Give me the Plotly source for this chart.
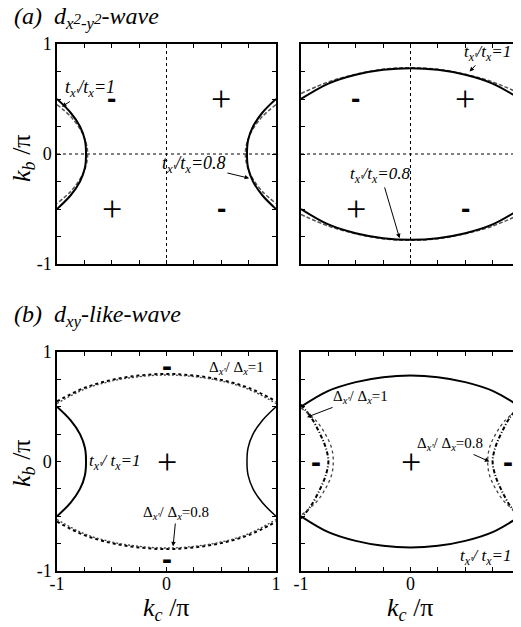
import plotly.graph_objects as go

W, H = 521, 627
OFF = 8  # page body margin of the default html wrapper
FW, FH = W - OFF, H - OFF
SERIF = "Liberation Serif, Times New Roman, serif"
SANS = "Liberation Sans, Arial, sans-serif"

# ---------------- data ----------------
ticks = [-1.0, -0.75, -0.5, -0.25, 0.0, 0.25, 0.5, 0.75, 1.0]
tick_text = ["-1", "", "", "", "0", "", "", "", "1"]

# (a) left panel: arcs near kc = -pi (right arcs are mirror images)
a1_solid_y = [0.5, 0.375, 0.25, 0.125, 0.0, -0.125, -0.25, -0.375, -0.5]
a1_solid_x = [-1.0, -0.875, -0.79, -0.745, -0.735, -0.745, -0.79, -0.875, -1.0]
a1_dash_y = [0.45, 0.34, 0.22, 0.11, 0.0, -0.11, -0.22, -0.34, -0.45]
a1_dash_x = [-1.0, -0.875, -0.785, -0.737, -0.72, -0.737, -0.785, -0.875, -1.0]

# (a) right panel: upper branches (lower are mirror images)
kx = [-1.0, -0.75, -0.5, -0.25, 0.0, 0.25, 0.5, 0.75, 1.0]
a2_solid_y = [0.5, 0.64, 0.72, 0.765, 0.78, 0.765, 0.72, 0.64, 0.5]
a2_dash_y = [0.55, 0.655, 0.725, 0.77, 0.785, 0.77, 0.725, 0.655, 0.55]

# (b) left panel
b1_solid_y = [0.5, 0.375, 0.25, 0.125, 0.0, -0.125, -0.25, -0.375, -0.5]
b1_solid_x = [-1.0, -0.875, -0.79, -0.745, -0.735, -0.745, -0.79, -0.875, -1.0]
b1_dot1_y = [0.55, 0.672, 0.745, 0.785, 0.80, 0.785, 0.745, 0.672, 0.55]
b1_dot2_y = [0.53, 0.66, 0.735, 0.775, 0.79, 0.775, 0.735, 0.66, 0.53]

# (b) right panel
b2_solid_y = [0.5, 0.645, 0.725, 0.77, 0.785, 0.77, 0.725, 0.645, 0.5]
b2_dot1_y = [0.52, 0.39, 0.26, 0.13, 0.0, -0.13, -0.26, -0.39, -0.52]
b2_dot1_x = [-1.0, -0.9, -0.83, -0.775, -0.75, -0.775, -0.83, -0.9, -1.0]
b2_dot2_y = [0.49, 0.37, 0.245, 0.12, 0.0, -0.12, -0.245, -0.37, -0.49]
b2_dot2_x = [-1.0, -0.86, -0.775, -0.72, -0.705, -0.72, -0.775, -0.86, -1.0]

fig = go.Figure()


def neg(v):
    return [-t for t in v]


def line(x, y, ax, color="black", width=2, dash="solid"):
    fig.add_trace(go.Scatter(
        x=x, y=y, mode="lines", xaxis="x" + ax, yaxis="y" + ax,
        line=dict(color=color, width=width, dash=dash, shape="spline"),
        showlegend=False, hoverinfo="skip"))


# panel a-left
for sx in (1, -1):
    xs = a1_dash_x if sx == 1 else neg(a1_dash_x)
    line(xs, a1_dash_y, "", color="#555", width=1.5, dash="4px,2px")
    xs = a1_solid_x if sx == 1 else neg(a1_solid_x)
    line(xs, a1_solid_y, "", width=2)

# panel a-right
for sy in (1, -1):
    yd = a2_dash_y if sy == 1 else neg(a2_dash_y)
    ys = a2_solid_y if sy == 1 else neg(a2_solid_y)
    line(kx, yd, "2", color="#555", width=1.5, dash="4px,2px")
    line(kx, ys, "2", width=2)

# panel b-left
line(b1_solid_x, b1_solid_y, "3", width=2)
line(neg(b1_solid_x), b1_solid_y, "3", width=1.5)
for sy in (1, -1):
    y1 = b1_dot1_y if sy == 1 else neg(b1_dot1_y)
    y2 = b1_dot2_y if sy == 1 else neg(b1_dot2_y)
    line(kx, y1, "3", width=2, dash="dot")
    line(kx, y2, "3", color="#444", width=1.3, dash="2px,2px")

# panel b-right
for sy in (1, -1):
    ys = b2_solid_y if sy == 1 else neg(b2_solid_y)
    line(kx, ys, "4", width=2)
for sx in (1, -1):
    x1 = b2_dot1_x if sx == 1 else neg(b2_dot1_x)
    x2 = b2_dot2_x if sx == 1 else neg(b2_dot2_x)
    line(x1, b2_dot1_y, "4", width=2, dash="4px,2px,1px,2px")
    line(x2, b2_dot2_y, "4", color="#444", width=1.3, dash="dot")

# ---------------- axes ----------------
def px_x(p):
    return (p - OFF) / FW


def px_y(p):
    return 1 - (p - OFF) / FH


dom_x = {"L": [px_x(57), px_x(276)], "R": [px_x(301), px_x(520)]}
dom_y = {"A": [px_y(264), px_y(44)], "B": [px_y(571), px_y(352)]}


def axis(domain, anchor, labels, is_x):
    d = dict(domain=domain, anchor=anchor, range=[-1, 1],
             showline=True, linecolor="black", linewidth=1.5, mirror="ticks",
             ticks="inside", ticklen=4, tickwidth=1, tickcolor="black",
             tickvals=ticks, ticktext=tick_text if labels else [""] * 9,
             showgrid=False, zeroline=False,
             tickfont=dict(family=SERIF, size=18, color="black"),
             fixedrange=True)
    if is_x:
        d["ticklabelstandoff"] = -4
    return d


layout_axes = dict(
    xaxis=axis(dom_x["L"], "y", False, True), yaxis=axis(dom_y["A"], "x", True, False),
    xaxis2=axis(dom_x["R"], "y2", False, True), yaxis2=axis(dom_y["A"], "x2", False, False),
    xaxis3=axis(dom_x["L"], "y3", True, True), yaxis3=axis(dom_y["B"], "x3", True, False),
    xaxis4=axis(dom_x["R"], "y4", True, True), yaxis4=axis(dom_y["B"], "x4", False, False),
)

shapes = []
for ax in ("", "2"):
    shapes.append(dict(type="line", xref="x" + ax, yref="y" + ax, x0=0, x1=0, y0=-1, y1=1,
                       line=dict(color="black", width=1, dash="dot"), layer="below"))
    shapes.append(dict(type="line", xref="x" + ax, yref="y" + ax, x0=-1, x1=1, y0=0, y1=0,
                       line=dict(color="black", width=1, dash="dot"), layer="below"))

# ---------------- text ----------------
anns = []
TX1 = "<i>t<sub>x'</sub>/t<sub>x</sub>=1</i>"
TX08 = "<i>t<sub>x'</sub>/t<sub>x</sub>=0.8</i>"
TX1s = "<i>t<sub>x'</sub>/ t<sub>x</sub>=1</i>"
DX1 = "Δ<sub><i>x'</i></sub>/ Δ<sub><i>x</i></sub>=1"
DX08 = "Δ<sub><i>x'</i></sub>/ Δ<sub><i>x</i></sub>=0.8"


def label(ax, text, tx, ty, hx=None, hy=None, size=17):
    d = dict(xref="x" + ax, yref="y" + ax, text=text, xanchor="center", yanchor="middle",
             font=dict(family=SERIF, size=size, color="black"))
    if hx is None:
        d.update(x=tx, y=ty, showarrow=False)
    else:
        d.update(x=hx, y=hy, ax=tx, ay=ty, axref="x" + ax, ayref="y" + ax,
                 showarrow=True, arrowhead=2, arrowsize=0.9, arrowwidth=1,
                 arrowcolor="black", standoff=0, startstandoff=0)
    anns.append(d)


def sign(ax, s, x, y, bold=False):
    if s == "+":
        anns.append(dict(xref="x" + ax, yref="y" + ax, x=x, y=y, text="+", showarrow=False,
                         xanchor="center", yanchor="middle",
                         font=dict(family=SERIF, size=36, color="black")))
    else:
        anns.append(dict(xref="x" + ax, yref="y" + ax, x=x, y=y, text="<b>-</b>", showarrow=False,
                         xanchor="center", yanchor="middle",
                         font=dict(family=SANS, size=30 if bold else 28, color="black")))


# a-left
label("", TX1, -0.70, 0.595, -0.955, 0.43, size=18)
label("", TX08, 0.25, -0.10, 0.755, -0.22, size=18)
for s, x, y in (("-", -0.5, 0.5), ("+", 0.5, 0.5), ("+", -0.5, -0.5), ("-", 0.5, -0.5)):
    sign("", s, x, y)
# a-right
label("2", TX1, 0.70, 0.92, 0.54, 0.75, size=17)
label("2", TX08, -0.27, -0.19, -0.10, -0.765, size=17)
for s, x, y in (("-", -0.5, 0.5), ("+", 0.5, 0.5), ("+", -0.5, -0.5), ("-", 0.5, -0.5)):
    sign("2", s, x, y)
# b-left
label("3", DX1, 0.64, 0.855, 0.55, 0.765, size=15)
label("3", TX1s, -0.47, 0.0, size=17)
label("3", DX08, 0.09, -0.47, 0.06, -0.775, size=15)
sign("3", "+", 0.0, 0.0)
sign("3", "-", 0.0, 0.88, bold=True)
sign("3", "-", 0.0, -0.89, bold=True)
# b-right
label("4", DX1, -0.46, 0.59, -0.945, 0.405, size=15)
label("4", DX08, 0.36, 0.16, 0.72, 0.0, size=15)
label("4", TX1s, 0.69, -0.87, size=17)
sign("4", "+", 0.0, 0.0)
sign("4", "-", -0.86, 0.0, bold=True)
sign("4", "-", 0.89, 0.0, bold=True)

# panel titles
small2 = "<span style='font-size:15px'>2</span>"
anns.append(dict(xref="paper", yref="paper", x=px_x(12), y=px_y(18),
                 xanchor="left", yanchor="middle",
                 text="<i>(a)  d<sub>x</sub>" + small2 + "<sub>-y</sub>" + small2 + "-wave</i>",
                 showarrow=False, font=dict(family=SERIF, size=24, color="black")))
anns.append(dict(xref="paper", yref="paper", x=px_x(12), y=px_y(316),
                 xanchor="left", yanchor="middle",
                 text="<i>(b)  d<sub>xy</sub>-like-wave</i>",
                 showarrow=False, font=dict(family=SERIF, size=24, color="black")))

# axis titles
for yc in (158, 463):
    anns.append(dict(xref="paper", yref="paper", x=px_x(23), y=px_y(yc), textangle=-90,
                     xanchor="center", yanchor="middle",
                     text="<i>k<sub>b</sub></i> /π", showarrow=False,
                     font=dict(family=SERIF, size=26, color="black")))
for xc in (166, 410):
    anns.append(dict(xref="paper", yref="paper", x=px_x(xc), y=px_y(609),
                     xanchor="center", yanchor="middle",
                     text="<i>k<sub>c</sub></i> /π", showarrow=False,
                     font=dict(family=SERIF, size=26, color="black")))

fig.update_layout(
    width=FW, height=FH, margin=dict(l=0, r=0, t=0, b=0, pad=0, autoexpand=False),
    paper_bgcolor="white", plot_bgcolor="white",
    shapes=shapes, annotations=anns, showlegend=False,
    **layout_axes)

fig.write_html("out.html")
